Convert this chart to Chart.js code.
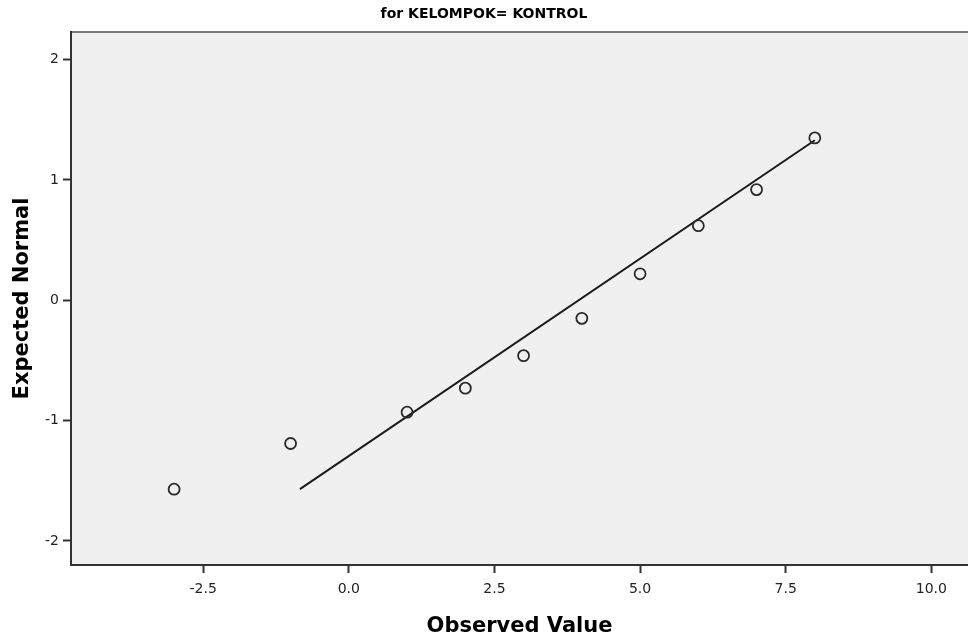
<!DOCTYPE html>
<html>
<head>
<meta charset="utf-8">
<script src="https://cdn.jsdelivr.net/npm/chart.js@4"></script>
<style>
  html, body { margin: 0; padding: 0; background: #ffffff; }
  #wrap { width: 968px; height: 644px; }
</style>
</head>
<body>
<div id="wrap"><canvas id="qqChart" width="968" height="644"></canvas></div>
<script>
// Data
const observedValues = [-3, -1, 1, 2, 3, 4, 5, 6, 7, 8];
const expectedNormal = [-1.57, -1.19, -0.93, -0.73, -0.46, -0.15, 0.22, 0.62, 0.92, 1.35];
const lineX = [-0.84, 8.0];
const lineY = [-1.57, 1.33];
const xTicks = [-2.5, 0, 2.5, 5, 7.5, 10];
const yTicks = [-2, -1, 0, 1, 2];

const points = observedValues.map((x, i) => ({ x: x, y: expectedNormal[i] }));
const refLine = lineX.map((x, i) => ({ x: x, y: lineY[i] }));

// plot background and top frame line
const plotFrame = {
  id: 'plotFrame',
  beforeDraw(chart) {
    const { ctx, chartArea: a } = chart;
    ctx.save();
    ctx.fillStyle = '#f0f0f0';
    ctx.fillRect(a.left, a.top, a.right - a.left, a.bottom - a.top);
    ctx.strokeStyle = '#7a7a7a';
    ctx.lineWidth = 2;
    ctx.beginPath();
    ctx.moveTo(a.left, a.top);
    ctx.lineTo(a.right, a.top);
    ctx.stroke();
    ctx.restore();
  }
};

const ctx = document.getElementById('qqChart').getContext('2d');
new Chart(ctx, {
  type: 'scatter',
  data: {
    datasets: [{
      label: 'Observed',
      data: points,
      pointStyle: 'circle',
      pointRadius: 5.5,
      pointBorderWidth: 1.8,
      pointBorderColor: '#2a2a2a',
      pointBackgroundColor: 'rgba(0,0,0,0)'
    }, {
      type: 'line',
      label: 'Line',
      data: refLine,
      borderColor: '#1a1a1a',
      borderWidth: 2,
      pointRadius: 0,
      fill: false
    }]
  },
  options: {
    responsive: false,
    animation: false,
    layout: { padding: 0, autoPadding: false },
    plugins: {
      legend: { display: false },
      tooltip: { enabled: false },
      title: {
        display: true,
        text: 'for KELOMPOK= KONTROL',
        color: '#000',
        font: { family: 'DejaVu Sans', size: 14, weight: 'bold', lineHeight: 1.2 },
        padding: { top: 6, bottom: 9.2 }
      }
    },
    scales: {
      x: {
        type: 'linear',
        min: -4.77,
        max: 10.63,
        afterBuildTicks: (s) => { s.ticks = xTicks.map(v => ({ value: v })); },
        afterFit: (s) => { s.height = 79; s.paddingLeft = 0; s.paddingRight = 0; },
        ticks: {
          color: '#222',
          padding: 8,
          font: { family: 'DejaVu Sans', size: 14 },
          callback: (v) => Number(v).toFixed(1)
        },
        grid: { drawOnChartArea: false, drawTicks: true, tickLength: 8, tickWidth: 2, color: '#333' },
        border: { display: true, color: '#333', width: 2 },
        title: {
          display: true,
          text: 'Observed Value',
          color: '#000',
          font: { family: 'DejaVu Sans', size: 21, weight: 'bold', lineHeight: 1.2 },
          padding: { top: 0, bottom: 5 }
        }
      },
      y: {
        type: 'linear',
        min: -2.2,
        max: 2.23,
        afterBuildTicks: (s) => { s.ticks = yTicks.map(v => ({ value: v })); },
        afterFit: (s) => { s.width = 71; },
        ticks: {
          color: '#222',
          padding: 4,
          font: { family: 'DejaVu Sans', size: 14 }
        },
        grid: { drawOnChartArea: false, drawTicks: true, tickLength: 8, tickWidth: 2, color: '#333' },
        border: { display: true, color: '#333', width: 2 },
        title: {
          display: true,
          text: 'Expected Normal',
          color: '#000',
          font: { family: 'DejaVu Sans', size: 21, weight: 'bold', lineHeight: 1.2 },
          padding: { top: 10, bottom: 0 }
        }
      }
    }
  },
  plugins: [plotFrame]
});
</script>
</body>
</html>
